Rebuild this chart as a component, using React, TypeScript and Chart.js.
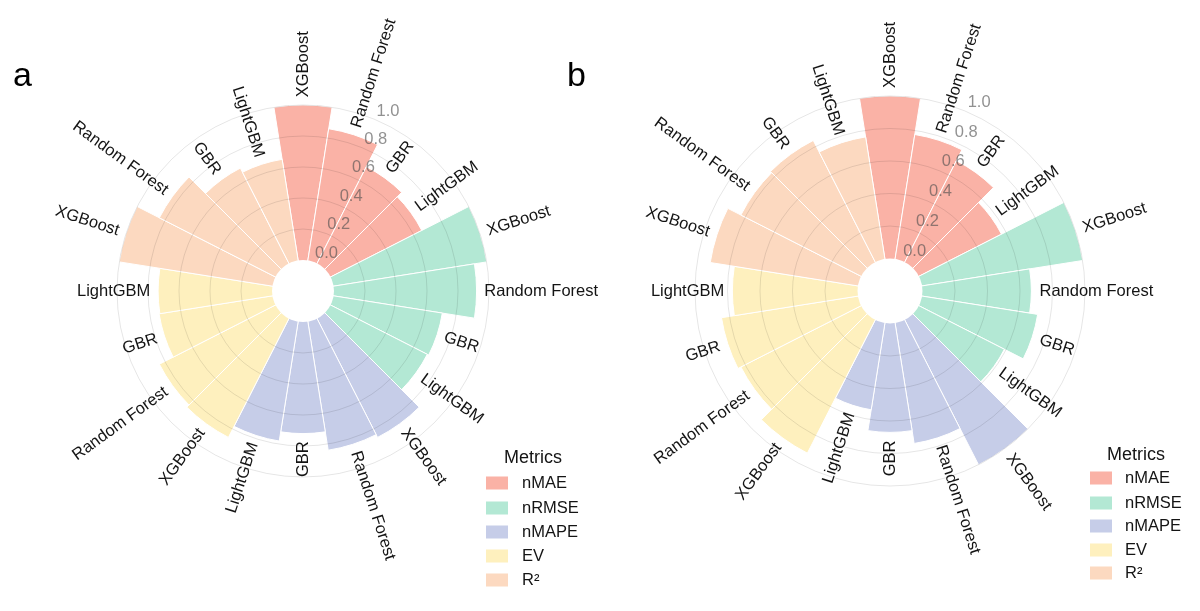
import { useEffect, useRef } from "react";
import { Chart, registerables } from "chart.js";

Chart.register(...registerables);

// Models shown inside every metric group, clockwise from the top
const models = ["XGBoost", "Random Forest", "GBR", "LightGBM"];
const metrics = ["nMAE", "nRMSE", "nMAPE", "EV", "R²"];
const metricColors = ["#FAB2A6", "#B3E8D4", "#C6CDE8", "#FEF0BE", "#FCD9C0"];
const radialTicks = [0, 0.2, 0.4, 0.6, 0.8, 1.0];

// Panel a — normalised scores per model
const aNMAE = [1.0, 0.86, 0.7, 0.66];
const aNRMSE = [1.0, 0.92, 0.71, 0.7];
const aNMAPE = [0.86, 0.84, 0.72, 0.78];
const aEV = [0.86, 0.84, 0.74, 0.735];
const aR2 = [1.0, 0.84, 0.69, 0.66];

// Panel b — normalised scores per model
const bNMAE = [1.0, 0.775, 0.7, 0.57];
const bNRMSE = [1.0, 0.67, 0.72, 0.59];
const bNMAPE = [1.0, 0.75, 0.67, 0.54];
const bEV = [0.92, 0.83, 0.85, 0.77];
const bR2 = [0.92, 0.83, 0.84, 0.76];

const FONT = "'Liberation Sans', Arial, Helvetica, sans-serif";
const W = 1200;
const H = 611;

type Panel = {
  letter: string;
  letterX: number;
  groups: number[][];
  padding: { left: number; right: number; top: number; bottom: number };
  legend: { titleX: number; titleY: number; boxX: number; textX: number; rows: number[] };
};

const panels: Panel[] = [
  {
    letter: "a",
    letterX: 13,
    groups: [aNMAE, aNRMSE, aNMAPE, aEV, aR2],
    padding: { left: 117, right: W - 489, top: 105, bottom: H - 477 },
    legend: { titleX: 504, titleY: 458, boxX: 486, textX: 522, rows: [483, 508, 532, 556, 580] },
  },
  {
    letter: "b",
    letterX: 567,
    groups: [bNMAE, bNRMSE, bNMAPE, bEV, bR2],
    padding: { left: 695, right: W - 1085, top: 96, bottom: H - 486 },
    legend: { titleX: 1107, titleY: 455, boxX: 1090, textX: 1125, rows: [478, 503, 526, 550, 573] },
  },
];

function buildPanel(p: Panel) {
  const labels: string[] = [];
  const values: number[] = [];
  const colors: string[] = [];
  p.groups.forEach((vals, gi) => {
    vals.forEach((v, mi) => {
      labels.push(models[mi]);
      values.push(v);
      colors.push(metricColors[gi]);
    });
  });
  return { labels, values, colors };
}

function makeDecorations(p: Panel, labels: string[], values: number[]) {
  return {
    id: "circularBarDecor",
    afterDatasetsDraw(chart: any) {
      const scale = chart.scales.r;
      const ctx = chart.ctx;
      // white hole in the middle (values below zero)
      ctx.save();
      ctx.beginPath();
      ctx.arc(scale.xCenter, scale.yCenter, scale.getDistanceFromCenterForValue(0), 0, Math.PI * 2);
      ctx.fillStyle = "#ffffff";
      ctx.fill();
      ctx.restore();
    },
    afterDraw(chart: any) {
      const scale = chart.scales.r;
      const ctx = chart.ctx;
      const cx = scale.xCenter;
      const cy = scale.yCenter;
      const R = scale.drawingArea;
      const n = labels.length;
      const step = (Math.PI * 2) / n;

      // model labels just beyond each bar
      ctx.save();
      ctx.fillStyle = "#141414";
      ctx.font = `16.5px ${FONT}`;
      ctx.textBaseline = "middle";
      labels.forEach((lab, i) => {
        const theta = i * step;
        const r = scale.getDistanceFromCenterForValue(values[i] + 0.05);
        const x = cx + r * Math.sin(theta);
        const y = cy - r * Math.cos(theta);
        ctx.save();
        ctx.translate(x, y);
        if (theta < Math.PI - 1e-6) {
          ctx.rotate(theta - Math.PI / 2);
          ctx.textAlign = "left";
        } else {
          ctx.rotate(theta + Math.PI / 2);
          ctx.textAlign = "right";
        }
        ctx.fillText(lab, 0, 0);
        ctx.restore();
      });
      ctx.restore();

      // radial axis values
      const phi = (23.4 * Math.PI) / 180;
      ctx.save();
      ctx.fillStyle = "rgba(77,77,77,0.62)";
      ctx.font = `16.5px ${FONT}`;
      ctx.textAlign = "center";
      ctx.textBaseline = "middle";
      radialTicks.forEach((t) => {
        const r = scale.getDistanceFromCenterForValue(t);
        const x = cx + r * Math.sin(phi) + 0.06 * R;
        const y = cy - r * Math.cos(phi) - 0.05 * R;
        ctx.fillText(t.toFixed(1), x, y);
      });
      ctx.restore();

      // legend
      const lg = p.legend;
      ctx.save();
      ctx.fillStyle = "#141414";
      ctx.font = `18px ${FONT}`;
      ctx.textAlign = "left";
      ctx.textBaseline = "middle";
      ctx.fillText("Metrics", lg.titleX, lg.titleY);
      ctx.font = `16.5px ${FONT}`;
      metrics.forEach((m, i) => {
        const y = lg.rows[i];
        ctx.fillStyle = metricColors[i];
        ctx.fillRect(lg.boxX, y - 6.5, 22, 13);
        ctx.fillStyle = "#141414";
        ctx.fillText(m, lg.textX, y + 0.5);
      });
      ctx.restore();

      // panel letter
      ctx.save();
      ctx.fillStyle = "#000000";
      ctx.font = `34px ${FONT}`;
      ctx.textAlign = "left";
      ctx.textBaseline = "alphabetic";
      ctx.fillText(p.letter, p.letterX, 86);
      ctx.restore();
    },
  };
}

function CircularBars({ panel }: { panel: Panel }) {
  const ref = useRef<HTMLCanvasElement | null>(null);
  useEffect(() => {
    if (!ref.current) return;
    const { labels, values, colors } = buildPanel(panel);
    const chart = new Chart(ref.current, {
      type: "polarArea",
      data: {
        labels,
        datasets: [
          {
            data: values,
            backgroundColor: colors,
            borderColor: "#ffffff",
            borderWidth: 1,
          },
        ],
      },
      options: {
        responsive: false,
        animation: false,
        layout: { padding: panel.padding },
        plugins: { legend: { display: false }, tooltip: { enabled: false } },
        scales: {
          r: {
            min: -0.2,
            max: 1.0,
            startAngle: -9,
            ticks: { display: false, stepSize: 0.2 },
            grid: {
              z: 1,
              lineWidth: 1,
              color: (c: any) => (c.tick && c.tick.value > 0.01 ? "rgba(0,0,0,0.1)" : "rgba(0,0,0,0)"),
            },
            angleLines: { display: false },
            pointLabels: { display: false },
          },
        },
      } as any,
      plugins: [makeDecorations(panel, labels, values)],
    });
    return () => chart.destroy();
  }, [panel]);
  return (
    <canvas
      ref={ref}
      width={W}
      height={H}
      style={{ position: "absolute", left: 0, top: 0, width: W, height: H }}
    />
  );
}

export default function App() {
  return (
    <div style={{ position: "absolute", left: 0, top: 0, width: W, height: H, background: "#ffffff" }}>
      {panels.map((p) => (
        <CircularBars key={p.letter} panel={p} />
      ))}
    </div>
  );
}
